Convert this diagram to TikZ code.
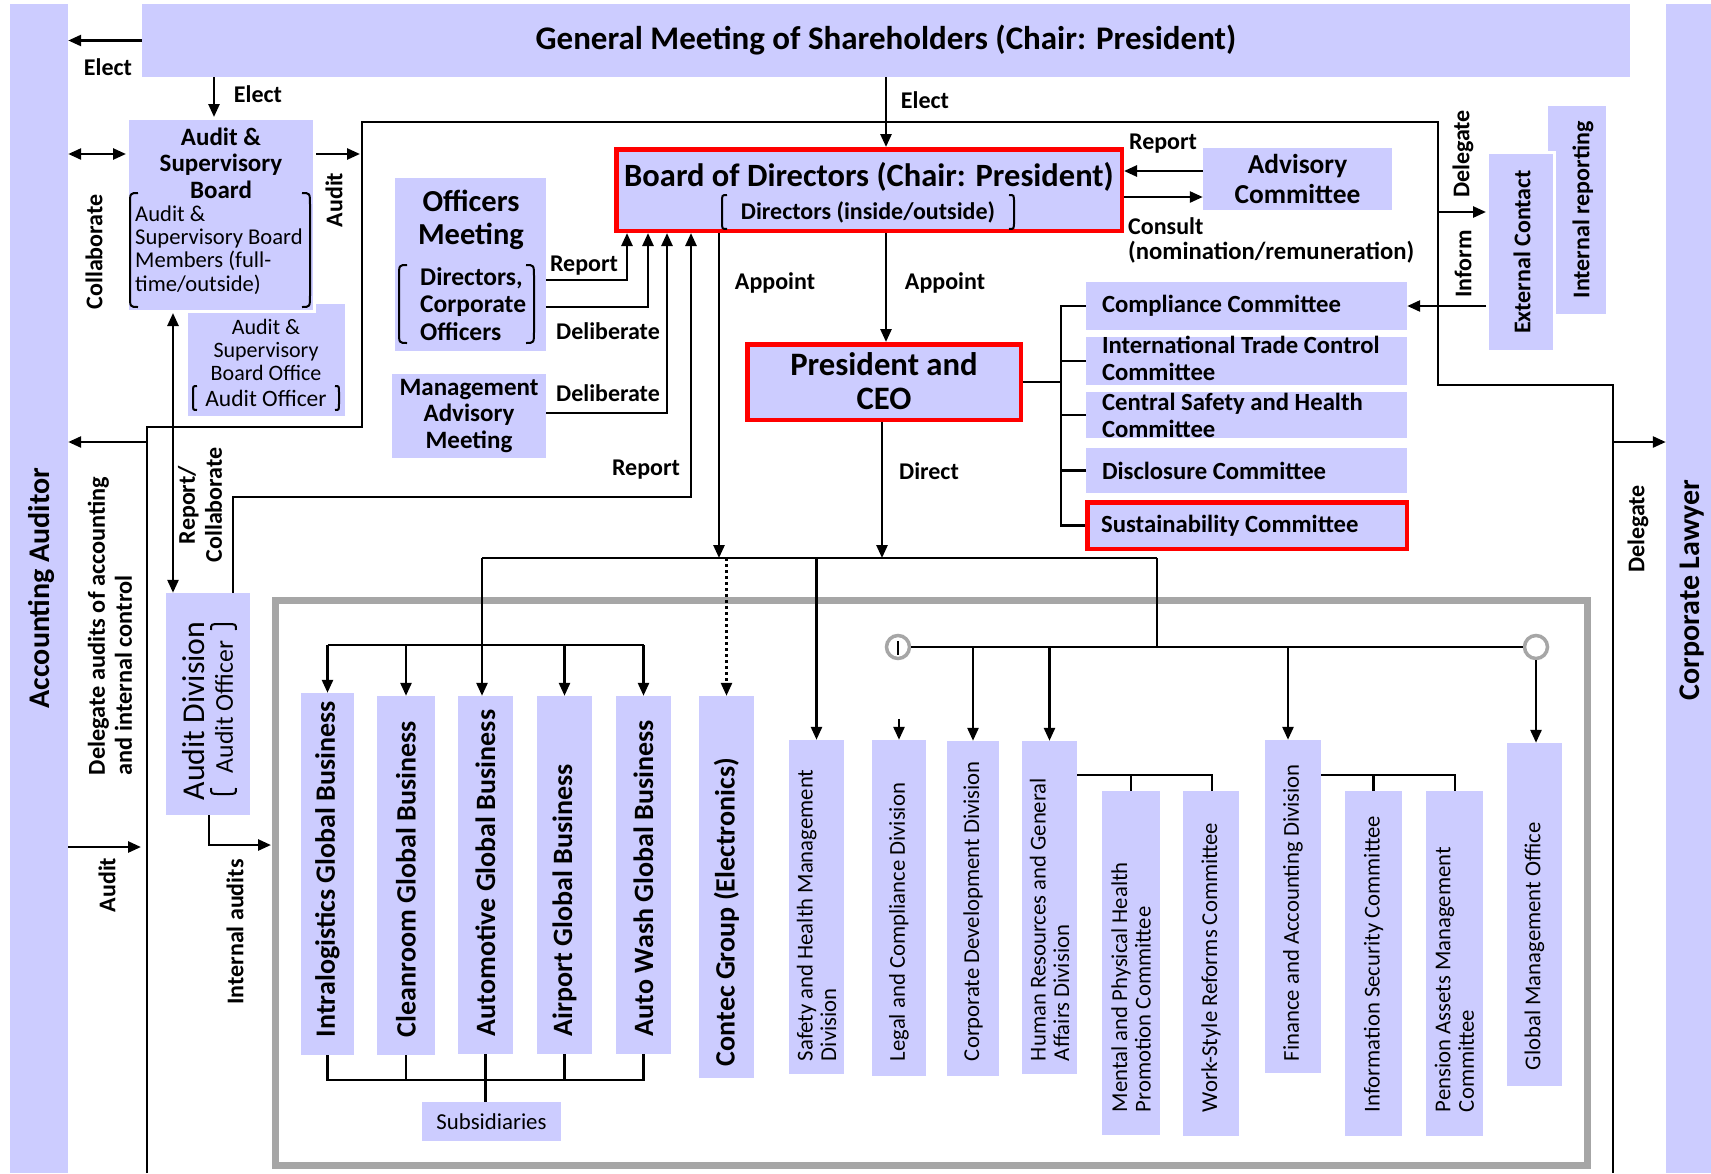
\documentclass[tikz,border=0pt]{standalone}
\usepackage{fontspec}
\setmainfont{Carlito}
\usetikzlibrary{arrows.meta,fit,calc}
\definecolor{lav}{HTML}{CCCCFF}
\definecolor{framegray}{HTML}{A6A6A6}
\newcommand\FSz[2]{\fontsize{#1}{#2}\selectfont}
\newcommand\LBk[4]{\draw[brk] (#1+#4,#2) .. controls (#1,#2) .. (#1,#2+#4*1.5) -- (#1,#3-#4*1.5) .. controls (#1,#3) .. (#1+#4,#3);}
\newcommand\RBk[4]{\draw[brk] (#1-#4,#2) .. controls (#1,#2) .. (#1,#2+#4*1.5) -- (#1,#3-#4*1.5) .. controls (#1,#3) .. (#1-#4,#3);}
\newcommand\TBk[4]{\draw[brk] (#1,#3+#4) .. controls (#1,#3) .. (#1+#4*1.5,#3) -- (#2-#4*1.5,#3) .. controls (#2,#3) .. (#2,#3+#4);}
\newcommand\BBk[4]{\draw[brk] (#1,#3-#4) .. controls (#1,#3) .. (#1+#4*1.5,#3) -- (#2-#4*1.5,#3) .. controls (#2,#3) .. (#2,#3-#4);}
\begin{document}
\begin{tikzpicture}[x=1pt,y=-1pt,
  box/.style={fill=lav, inner sep=0pt},
  redbox/.style={fill=lav, draw=red, line width=4.5pt, inner sep=0pt},
  wbox/.style={fill=lav, draw=white, line width=3pt, inner sep=0pt},
  lbl/.style={font=\FSz{24}{27}\bfseries, inner sep=0pt},
  conn/.style={line width=2.6pt},
  arr/.style={line width=2.6pt, -{Triangle[length=13pt,width=11pt]}},
  darr/.style={line width=2.6pt, {Triangle[length=13pt,width=11pt]}-{Triangle[length=13pt,width=11pt]}},
  thinline/.style={line width=1.5pt},
  brk/.style={line width=2pt},
  txt/.style={inner sep=0pt, align=center},
  vt/.style={rotate=90, inner sep=0pt},
  bizt/.style={vt, anchor=west, font=\FSz{28}{30}\bfseries},
  divt/.style={vt, anchor=west, font=\FSz{22.7}{23.5}, align=left},
  ctxt/.style={inner sep=0pt, anchor=west, align=left, font=\FSz{24.7}{27}\bfseries},
]
\fill[white] (0,0) rectangle (1711,1173);
\useasboundingbox (0,0) rectangle (1711,1173);

% side columns and top
\node[box, fit={(10,4) (68,1173)}] (acc) {};
\node[vt, font=\FSz{30}{32}\bfseries] (acctxt) at (41,588) {Accounting Auditor};
\node[box, fit={(1666,4) (1711,1173)}] (law) {};
\node[vt, font=\FSz{30}{32}\bfseries] (lawtxt) at (1692,590) {Corporate Lawyer};
\node[box, fit={(142,4) (1630,77)}] (gm) {};
\node[txt, font=\FSz{33}{35}\bfseries] (gmt) at (gm.center) {General Meeting of Shareholders (Chair: President)};

% outline
\coordinate (o1) at (147,1173);
\coordinate (o2) at (147,427);
\coordinate (o3) at (362,427);
\coordinate (o4) at (362,122);
\coordinate (o5) at (1438,122);
\coordinate (o6) at (1438,385);
\coordinate (o7) at (1613,385);
\coordinate (o8) at (1613,1173);
\draw[thinline] (o1) -- (o2) -- (o3) -- (o4) -- (o5) -- (o6) -- (o7) -- (o8);

% audit & supervisory board
\node[box, fit={(188,304) (345,416)}] (aso) {};
\node[txt, font=\FSz{22}{22.8}] (asot) at (266,350) {Audit \&\\Supervisory\\Board Office};
\node[txt, font=\FSz{23.5}{24}] (asoo) at (266,398) {Audit Officer};
\LBk{193}{386}{410}{4}
\RBk{339}{386}{410}{4}
\node[wbox, fit={(127.5,118.5) (314.5,311.5)}] (asb) {};
\node[txt, font=\FSz{25}{26.5}\bfseries] (asbt) at (221,163) {Audit \&\\Supervisory\\Board};
\node[font=\FSz{22.6}{23.3}, align=left, inner sep=0pt, anchor=west] (asbm) at (135,250) {Audit \&\\Supervisory Board\\Members (full-\\time/outside)};
\LBk{130}{193}{307}{8}
\RBk{310}{193}{307}{8}

\draw[arr] (gm.west) -- (acc.east |- gm.west);
\node[lbl] (electA) at (108,67) {Elect};
\draw[arr] (gm.south -| 214,0) -- (asb.north -| 214,0);
\node[lbl] (electB) at (258,94) {Elect};
\draw[darr] (acc.east |- 0,154) -- (asb.west |- 0,154);
\node[lbl, vt] (collL) at (94,252) {Collaborate};
\draw[arr, shorten >=2pt] (asb.east |- 0,154) -- (o4 |- 0,154);
\node[lbl, vt] (auditR) at (334,200) {Audit};

\draw[arr] (o2 |- 0,442) -- (acc.east |- 0,442);
\node[lbl, vt, align=left, font=\FSz{24.3}{27}\bfseries] (dlgA) at (110,626) {Delegate audits of accounting\\and internal control};
\draw[arr, shorten >=6pt] (acc.east |- 0,847) -- (o2 |- 0,847);
\node[lbl, vt] (auditL) at (107,885) {Audit};
\draw[arr] (o7 |- 0,442) -- (law.west |- 0,442);
\node[lbl, vt] (dlgB) at (1638,529) {Delegate};

% audit division
\node[box, fit={(166,593) (250,815)}] (adiv) {};
\node[vt, font=\FSz{31.8}{33}] (adivt) at (194,711) {Audit Division};
\node[vt, font=\FSz{25.7}{27}] (adivo) at (224,707) {Audit Officer};
\TBk{211}{236}{624}{6}
\BBk{211}{236}{794}{6}
\draw[darr] (asb.south -| 173,0) -- (adiv.north -| 173,0);
\node[lbl, vt, align=center] (rcL) at (200,505) {Report/\\Collaborate};

% group frame
\node[draw=framegray, line width=7pt, inner sep=0pt, fit={(275,600) (1587,1165)}] (grp) {};
\coordinate (ia) at (271,845);
\draw[arr] (adiv.south -| 209,0) |- (ia);
\node[lbl, vt] (iaL) at (235,932) {Internal audits};

% board
\node[redbox, fit={(616.25,149.25) (1121.75,230.75)}] (bod) {};
\node[txt, font=\FSz{32.5}{34}\bfseries] (bodt) at (869,177) {Board of Directors (Chair: President)};
\node[txt, font=\FSz{24}{26}\bfseries] (bodd) at (868,212) {Directors (inside/outside)};
\LBk{722}{195}{229}{5}
\RBk{1014}{195}{229}{5}
\draw[arr] (gm.south -| 886,0) -- (bod.north -| 886,0);
\node[lbl] (electC) at (925,100) {Elect};

% advisory
\node[box, fit={(1203,148) (1392,210)}] (adv) {};
\node[txt, font=\FSz{27.4}{30}\bfseries] (advt) at (adv.center) {Advisory\\Committee};
\draw[arr] (adv.west |- 0,171) -- (bod.east |- 0,171);
\draw[arr] (bod.east |- 0,197) -- (adv.west |- 0,197);
\node[lbl] (repA) at (1163,144) {Report};
\node[lbl, anchor=west] (consA) at (1128,226) {Consult};
\node[lbl, anchor=west, font=\FSz{24.7}{27}\bfseries] (consB) at (1128,252) {(nomination/remuneration)};

% officers and management
\node[box, fit={(395,178) (546,351)}] (off) {};
\node[txt, font=\FSz{30.5}{33}\bfseries] (offt) at (471,220) {Officers\\Meeting};
\node[font=\FSz{25.5}{27.5}\bfseries, align=left, inner sep=0pt, anchor=west] (offm) at (420,304) {Directors,\\Corporate\\Officers};
\LBk{399}{265}{343}{8}
\RBk{534}{265}{343}{8}
\node[box, fit={(392,374) (546,458)}] (mam) {};
\node[txt, font=\FSz{25}{26.5}\bfseries] (mamt) at (mam.center) {Management\\Advisory\\Meeting};
\draw[arr] (off.east |- 0,280) -| (bod.south -| 627,0);
\draw[arr] (off.east |- 0,307) -| (bod.south -| 648,0);
\draw[arr] (mam.east |- 0,413) -| (bod.south -| 667,0);
\node[lbl] (repB) at (584,266) {Report};
\node[lbl] (delA) at (608,331) {Deliberate};
\node[lbl] (delB) at (608,393) {Deliberate};
\coordinate (rp1) at (233,497);
\coordinate (rp2) at (691,497);
\draw[arr] (adiv.north -| rp1) -- (rp1) -- (rp2) -- (bod.south -| rp2);
\node[lbl] (repC) at (646,470) {Report};

% president
\node[redbox, fit={(747.25,344.25) (1020.75,419.75)}] (pres) {};
\node[txt, font=\FSz{32.7}{34}\bfseries] (prest) at (884,381) {President and\\CEO};
\coordinate (hA) at (482,558);
\coordinate (hB) at (1157,558);
\draw[conn] (hA) -- (hB);
\draw[arr] (bod.south -| 719,0) -- (hA -| 719,0);
\node[lbl] (appA) at (775,283) {Appoint};
\draw[arr] (bod.south -| 886,0) -- (pres.north -| 886,0);
\node[lbl] (appB) at (945,283) {Appoint};
\draw[arr] (pres.south -| 882,0) -- (hA -| 882,0);
\node[lbl] (dirL) at (929,471) {Direct};

% committees
\node[box, fit={(1086,282) (1407,330)}] (c1) {};
\node[box, fit={(1086,337) (1407,385)}] (c2) {};
\node[box, fit={(1086,392) (1407,438)}] (c3) {};
\node[box, fit={(1086,448) (1407,493)}] (c4) {};
\node[redbox, fit={(1087.25,502.25) (1406.75,548.75)}] (c5) {};
\node[ctxt] (c1t) at ([xshift=16pt]c1.west) {Compliance Committee};
\node[ctxt] (c2t) at ([xshift=16pt,yshift=3pt]c2.west) {International Trade Control\\Committee};
\node[ctxt] (c3t) at ([xshift=16pt]c3.west) {Central Safety and Health\\Committee};
\node[ctxt] (c4t) at ([xshift=16pt]c4.west) {Disclosure Committee};
\node[ctxt] (c5t) at ([xshift=16pt]c5.west) {Sustainability Committee};
\draw[conn] (pres.east) -- (pres.east -| 1061,0);
\draw[conn] (c1.west) -| (c5.west -| 1061,0) -- (c5.west);
\draw[conn] (c2.west) -- (c2.west -| 1061,0);
\draw[conn] (c3.west) -- (c3.west -| 1061,0);
\draw[conn] (c4.west) -- (c4.west -| 1061,0);

% external contact
\node[box, fit={(1548,106) (1606,314)}] (intr) {};
\node[lbl, vt] (intrt) at (1583,210) {Internal reporting};
\node[wbox, fit={(1487.5,152.5) (1554.5,351.5)}] (ext) {};
\node[lbl, vt] (extt) at (1522,252) {External Contact};
\draw[arr] (ext.west |- c1.east) -- (c1.east);
\draw[arr] (o5 |- 0,212) -- (ext.west |- 0,212);
\node[lbl, vt] (dlgC) at (1463,154) {Delegate};
\node[lbl, vt] (infL) at (1463,264) {Inform};

% businesses
\node[box, fit={(301,693) (354,1055)}] (intra) {};
\node[box, fit={(377,696) (435,1055)}] (clean) {};
\node[box, fit={(458,696) (513,1054)}] (auto) {};
\node[box, fit={(537,696) (592,1054)}] (airp) {};
\node[box, fit={(616,696) (671,1054)}] (aw) {};
\node[box, fit={(699,696) (754,1078)}] (contec) {};
\node[bizt] (intrat) at ([yshift=18pt]intra.south) {Intralogistics Global Business};
\node[bizt] (cleant) at ([yshift=18pt]clean.south) {Cleanroom Global Business};
\node[bizt] (autot) at ([yshift=18pt]auto.south) {Automotive Global Business};
\node[bizt] (airpt) at ([yshift=18pt]airp.south) {Airport Global Business};
\node[bizt] (awt) at ([yshift=18pt]aw.south) {Auto Wash Global Business};
\node[bizt] (contect) at ([yshift=12pt]contec.south) {Contec Group (Electronics)};
\coordinate (bA) at (328,645);
\coordinate (bB) at (644,645);
\draw[conn] (bA -| intra.north) -- (bB -| aw.north);
\draw[arr] (bA -| intra.north) -- (intra.north);
\draw[arr] (bA -| clean.north) -- (clean.north);
\draw[arr] (bA -| airp.north) -- (airp.north);
\draw[arr] (bA -| aw.north) -- (aw.north);
\draw[arr] (hA) -- (auto.north -| hA);
\draw[arr, dash pattern=on 2.5pt off 3.5pt] (hA -| contec.north) -- (contec.north);

% subsidiaries
\node[box, fit={(422,1102) (561,1141)}] (subs) {};
\node[txt, font=\FSz{22.8}{24}] (subst) at (subs.center) {Subsidiaries};
\coordinate (sA) at (328,1080);
\draw[conn] (intra.south) -- (intra.south |- sA) -- (aw.south |- sA) -- (aw.south);
\draw[conn] (clean.south) -- (clean.south |- sA);
\draw[conn] (airp.south) -- (airp.south |- sA);
\draw[conn] (auto.south) -- (subs.north -| auto.south);

% divisions
\node[box, fit={(789,740) (844,1074)}] (safety) {};
\node[box, fit={(872,740) (926,1076)}] (legal) {};
\node[box, fit={(947,741) (999,1076)}] (corp) {};
\node[box, fit={(1022,741) (1077,1074)}] (hr) {};
\node[box, fit={(1102,791) (1160,1135)}] (mental) {};
\node[box, fit={(1183,791) (1239,1136)}] (work) {};
\node[box, fit={(1265,740) (1321,1073)}] (fin) {};
\node[box, fit={(1345,791) (1402,1136)}] (infosec) {};
\node[box, fit={(1426,791) (1483,1136)}] (pension) {};
\node[box, fit={(1507,743) (1562,1086)}] (gmo) {};
\node[divt] (safetyt) at ([yshift=13pt]safety.south) {Safety and Health Management\\Division};
\node[divt] (legalt) at ([yshift=15pt]legal.south) {Legal and Compliance Division};
\node[divt] (corpt) at ([yshift=15pt]corp.south) {Corporate Development Division};
\node[divt] (hrt) at ([yshift=13pt]hr.south) {Human Resources and General\\Affairs Division};
\node[divt] (mentalt) at ([yshift=23pt]mental.south) {Mental and Physical Health\\Promotion Committee};
\node[divt] (workt) at ([yshift=24pt]work.south) {Work-Style Reforms Committee};
\node[divt] (fint) at ([yshift=12pt]fin.south) {Finance and Accounting Division};
\node[divt] (infosect) at ([yshift=24pt]infosec.south) {Information Security Committee};
\node[divt] (pensiont) at ([yshift=24pt]pension.south) {Pension Assets Management\\Committee};
\node[divt] (gmot) at ([yshift=16pt]gmo.south) {Global Management Office};

\draw[arr] (hA -| safety.north) -- (safety.north);
\node[circle, draw=framegray, line width=3.5pt, fill=white, minimum size=23pt, inner sep=0pt] (cL) at (898,647) {};
\node[circle, draw=framegray, line width=3.5pt, fill=white, minimum size=23pt, inner sep=0pt] (cR) at (1536,647) {};
\draw[line width=2.2pt] ([yshift=6pt]cL.center) -- ([yshift=-8pt]cL.center);
\draw[conn] (cL.east) -- (cR.west);
\draw[conn] (hB) -- (hB |- cL.center);
\draw[arr] ([yshift=21pt]legal.north) -- (legal.north);
\draw[arr] (cL.center -| corp.north) -- (corp.north);
\draw[arr] (cL.center -| hr.north) -- (hr.north);
\draw[arr] (cL.center -| 1288,0) -- (fin.north -| 1288,0);
\draw[arr] (cR.south) -- (gmo.north -| cR.south);
\coordinate (hr1) at (1212,775);
\draw[conn] (hr.east |- hr1) -- (hr1) -- (work.north -| hr1);
\draw[conn] (mental.north) -- (mental.north |- hr1);
\coordinate (fn1) at (1455,775);
\draw[conn] (fin.east |- fn1) -- (fn1) -- (pension.north -| fn1);
\draw[conn] (infosec.north) -- (infosec.north |- fn1);
\end{tikzpicture}
\end{document}
